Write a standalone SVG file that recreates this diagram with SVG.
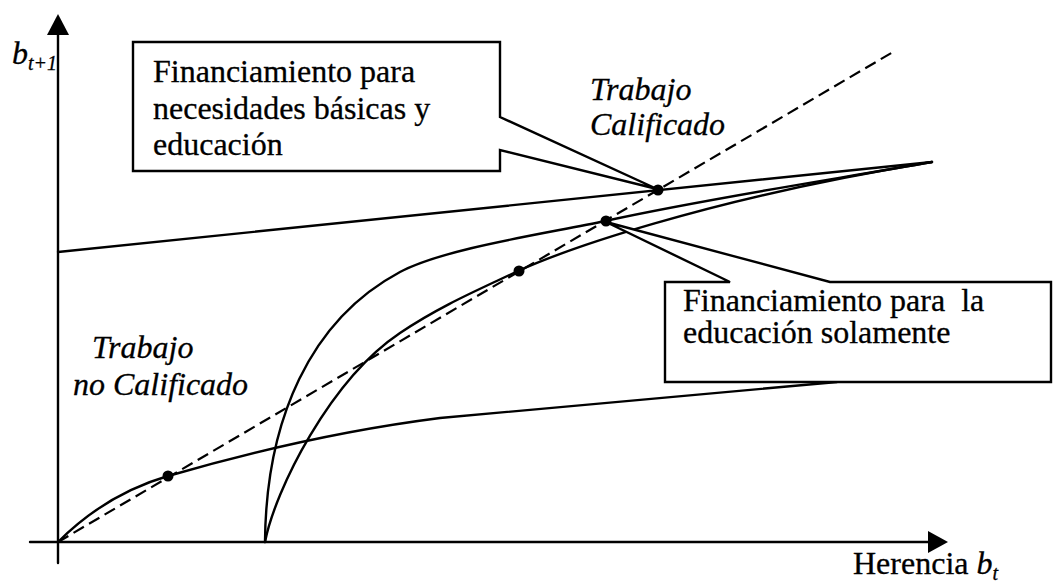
<svg xmlns="http://www.w3.org/2000/svg" width="1054" height="582" viewBox="0 0 1054 582">
<style>
.ln{fill:none;stroke:#000;stroke-width:2.4;stroke-linejoin:round;stroke-linecap:round}
.dash{fill:none;stroke:#000;stroke-width:2.2;stroke-dasharray:12 6}
.box{fill:#fff;stroke:#000;stroke-width:2.4;stroke-linejoin:miter}
.t{font-family:"Liberation Serif","Times New Roman",serif;font-size:32px;fill:#000;stroke:#000;stroke-width:0.3}
.i{font-style:italic}
.dot{fill:#000}
</style>
<rect width="1054" height="582" fill="#fff"/>
<g id="axes">
<line class="ln" x1="58" y1="563" x2="58" y2="34"/>
<path d="M47,35 L58,14 L69,35 Z" fill="#000"/>
<line class="ln" x1="30" y1="542" x2="929" y2="542"/>
<path d="M928,531 L948,542 L928,553 Z" fill="#000"/>
</g>
<g id="connectors">
<line id="diag45" class="dash" x1="58" y1="542" x2="893" y2="52"/>
<line id="straight" class="ln" x1="58" y1="252" x2="932" y2="162"/>
<path id="curveA" class="ln" d="M265,542 C266,420 310,320 400,272 C445,248 550,233 605,221 C710,198 830,180 932,162"/>
<path id="curveB" class="ln" d="M265,542 C275,490 330,380 400,333 C440,306 478,290 518,271 C560,252 700,200 932,162"/>
<path id="curveC" class="ln" d="M58,542 C85,515 120,490 168,476 C230,458 330,432 440,418 L837,382"/>
</g>
<g id="points">
<circle class="dot" cx="168" cy="476" r="5.5"/>
<circle class="dot" cx="519" cy="271" r="5.5"/>
<circle class="dot" cx="606" cy="221" r="5.5"/>
<circle class="dot" cx="658" cy="190" r="5.5"/>
</g>
<g id="callout1">
<path class="box" d="M133,42 L500,42 L500,117 L657,189 L500,150 L500,171 L133,171 Z"/>
<text class="t" x="153" y="82">Financiamiento para</text>
<text class="t" x="153" y="119">necesidades básicas y</text>
<text class="t" x="153" y="155">educación</text>
</g>
<g id="callout2">
<path class="box" d="M665,282 L730,282 L606,222 L830,282 L1051,282 L1051,382 L665,382 Z"/>
<text class="t" x="683" y="311">Financiamiento para&#160; la</text>
<text class="t" x="683" y="343">educación solamente</text>
</g>
<g id="label-calificado">
<text class="t i" x="590" y="100">Trabajo</text>
<text class="t i" x="590" y="135">Calificado</text>
</g>
<g id="label-nocalificado">
<text class="t i" x="92" y="358">Trabajo</text>
<text class="t i" x="73" y="395">no Calificado</text>
</g>
<g id="axis-labels">
<text class="t" x="12" y="64"><tspan class="i">b</tspan><tspan class="i" font-size="20" dy="6">t+1</tspan></text>
<text class="t" x="853" y="574">Herencia <tspan class="i">b</tspan><tspan class="i" font-size="20" dy="6">t</tspan></text>
</g>
</svg>
